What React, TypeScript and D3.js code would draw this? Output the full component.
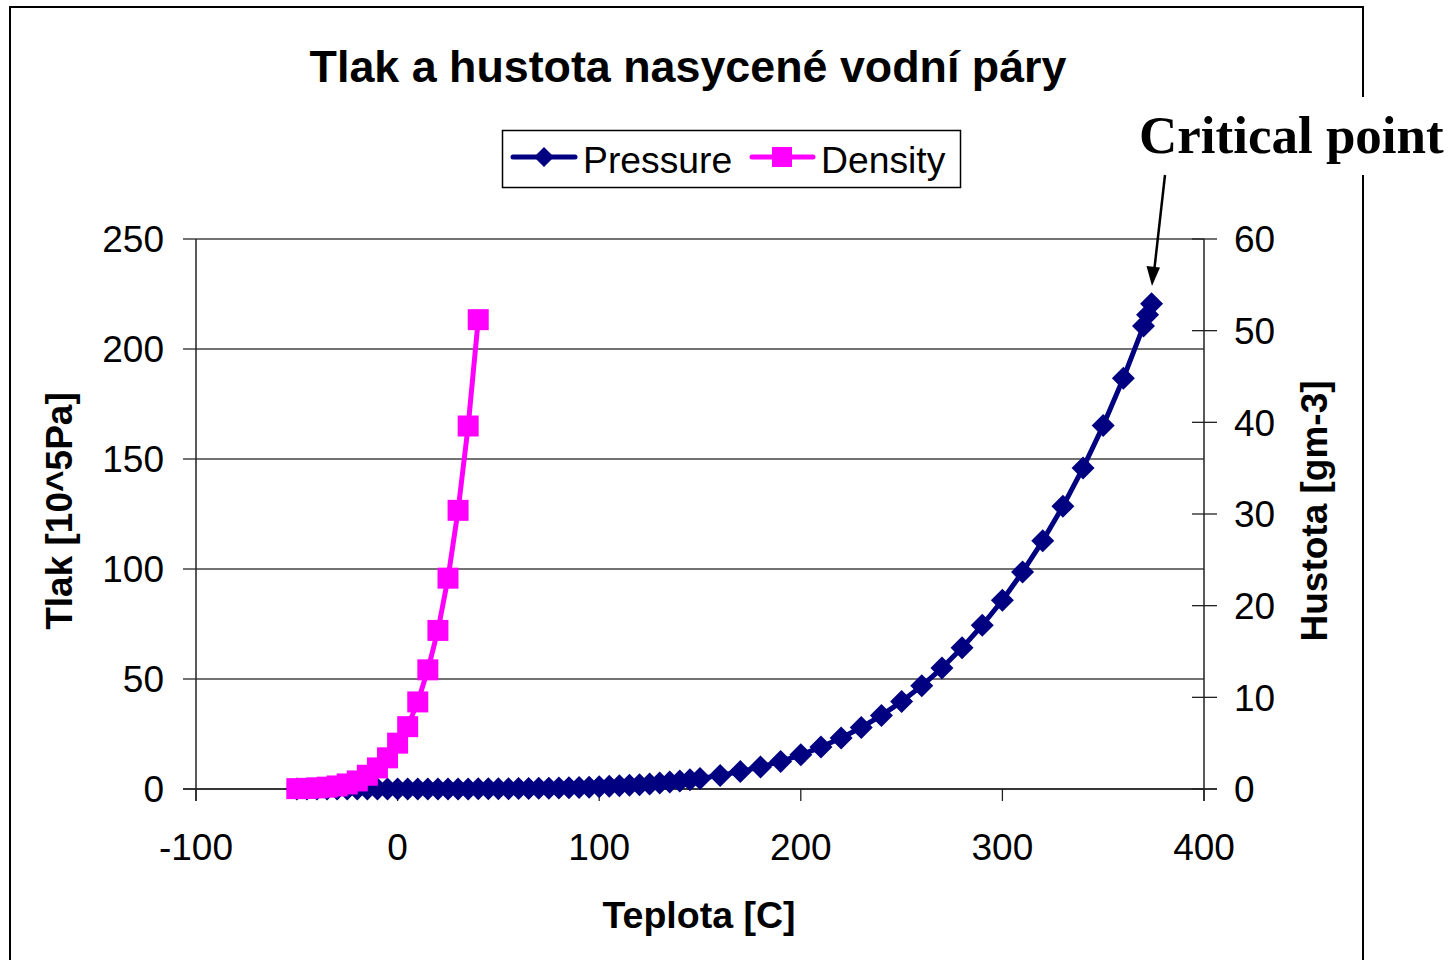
import React from "react";
import * as d3 from "d3";

const pressureTemps: number[] = [
  -50, -45, -40, -35, -30, -25, -20, -15, -10, -5, 0, 5, 10, 15, 20, 25, 30, 35, 40, 45, 50,
  55, 60, 65, 70, 75, 80, 85, 90, 95, 100, 105, 110, 115, 120, 125, 130, 135, 140, 145, 150,
  160, 170, 180, 190, 200, 210, 220, 230, 240, 250, 260, 270, 280, 290, 300, 310, 320, 330,
  340, 350, 360, 370, 372, 374,
];
const pressureValues: number[] = [
  0.00004, 0.00007, 0.00013, 0.00022, 0.00038, 0.00063, 0.00103, 0.00165, 0.0026, 0.004,
  0.0061, 0.0087, 0.0123, 0.0171, 0.0234, 0.0317, 0.0425, 0.0563, 0.0738, 0.0959, 0.1235,
  0.1576, 0.1995, 0.2504, 0.312, 0.386, 0.4741, 0.5787, 0.7018, 0.8461, 1.0142, 1.209,
  1.4338, 1.6918, 1.9867, 2.3222, 2.7026, 3.132, 3.615, 4.1563, 4.761,
  6.18, 7.92, 10.03, 12.55, 15.54, 19.06, 23.18, 27.95, 33.45, 39.74, 46.88, 54.97, 64.17,
  74.42, 85.81, 98.65, 112.8, 128.5, 145.9, 165.2, 186.7, 210.4, 215.6, 220.6,
];
const densityTemps: number[] = [
  -50, -45, -40, -35, -30, -25, -20, -15, -10, -5, 0, 5, 10, 15, 20, 25, 30, 35, 40,
];
const densityValues: number[] = [
  0.04, 0.07, 0.12, 0.2, 0.33, 0.55, 0.88, 1.5, 2.3, 3.4, 5.0, 6.8, 9.5, 13.0, 17.3, 23.0,
  30.4, 39.6, 51.2,
];
const xTicks: number[] = [-100, 0, 100, 200, 300, 400];
const yLeftTicks: number[] = [0, 50, 100, 150, 200, 250];
const yRightTicks: number[] = [0, 10, 20, 30, 40, 50, 60];

const title = "Tlak a hustota nasycené vodní páry";
const xTitle = "Teplota [C]";
const yLeftTitle = "Tlak [10^5Pa]";
const yRightTitle = "Hustota [gm-3]";
const seriesNames = ["Pressure", "Density"];
const annotation = "Critical point";

const NAVY = "#000080";
const MAGENTA = "#FF00FF";
const SANS = "'Liberation Sans', Arial, sans-serif";
const SERIF = "'Liberation Serif', 'Times New Roman', serif";

const diamond = (r: number) => `M0,${-r}L${r},0L0,${r}L${-r},0Z`;

export default function App() {
  const x = d3.scaleLinear().domain([-100, 400]).range([196, 1204]);
  const yL = d3.scaleLinear().domain([0, 250]).range([789, 239]);
  const yR = d3.scaleLinear().domain([0, 60]).range([789, 239]);

  const pData = pressureTemps.map((t, i) => [t, pressureValues[i]] as [number, number]);
  const dData = densityTemps.map((t, i) => [t, densityValues[i]] as [number, number]);

  const pLine = d3
    .line<[number, number]>()
    .x((d) => x(d[0]))
    .y((d) => yL(d[1]))(pData) as string;
  const dLine = d3
    .line<[number, number]>()
    .x((d) => x(d[0]))
    .y((d) => yR(d[1]))(dData) as string;

  const sq = 21;

  return (
    <svg
      width={1450}
      height={960}
      style={{ position: "absolute", left: 0, top: 0, background: "#fff" }}
    >
      <rect x={0} y={0} width={1450} height={960} fill="#fff" />
      <rect x={10} y={7} width={1353} height={1000} fill="none" stroke="#000" strokeWidth={2} />

      {/* gridlines */}
      {yLeftTicks.map((t) => (
        <line key={"g" + t} x1={183} x2={1204} y1={yL(t)} y2={yL(t)} stroke="#444" strokeWidth={1.3} />
      ))}
      {/* left axis */}
      <line x1={196} x2={196} y1={239} y2={801} stroke="#222" strokeWidth={1.5} />
      {/* right axis */}
      <line x1={1204} x2={1204} y1={239} y2={801} stroke="#222" strokeWidth={1.5} />
      {yRightTicks.map((t) => (
        <line key={"rt" + t} x1={1192} x2={1217} y1={yR(t)} y2={yR(t)} stroke="#222" strokeWidth={1.3} />
      ))}
      {/* x axis */}
      <line x1={183} x2={1217} y1={789} y2={789} stroke="#222" strokeWidth={1.5} />
      {xTicks.map((t) => (
        <line key={"xt" + t} x1={x(t)} x2={x(t)} y1={789} y2={801} stroke="#222" strokeWidth={1.3} />
      ))}

      {/* tick labels */}
      {yLeftTicks.map((t) => (
        <text key={"yl" + t} x={164} y={yL(t)} dy="0.36em" textAnchor="end" fontFamily={SANS} fontSize={37}>
          {t}
        </text>
      ))}
      {yRightTicks.map((t) => (
        <text key={"yr" + t} x={1234} y={yR(t)} dy="0.36em" textAnchor="start" fontFamily={SANS} fontSize={37}>
          {t}
        </text>
      ))}
      {xTicks.map((t) => (
        <text key={"xl" + t} x={x(t)} y={860} textAnchor="middle" fontFamily={SANS} fontSize={37}>
          {t}
        </text>
      ))}

      {/* axis titles */}
      <text x={699} y={928} textAnchor="middle" fontFamily={SANS} fontWeight="bold" fontSize={37.5}>
        {xTitle}
      </text>
      <text
        transform={`translate(72,511) rotate(-90)`}
        textAnchor="middle"
        fontFamily={SANS}
        fontWeight="bold"
        fontSize={37}
      >
        {yLeftTitle}
      </text>
      <text
        transform={`translate(1327,511) rotate(-90)`}
        textAnchor="middle"
        fontFamily={SANS}
        fontWeight="bold"
        fontSize={37}
      >
        {yRightTitle}
      </text>

      {/* title */}
      <text x={688} y={82} textAnchor="middle" fontFamily={SANS} fontWeight="bold" fontSize={44.8}>
        {title}
      </text>

      {/* pressure series */}
      <path d={pLine} fill="none" stroke={NAVY} strokeWidth={5} strokeLinejoin="round" />
      {pData.map((d, i) => (
        <path key={"pm" + i} d={diamond(11.5)} transform={`translate(${x(d[0])},${yL(d[1])})`} fill={NAVY} />
      ))}

      {/* density series */}
      <path d={dLine} fill="none" stroke={MAGENTA} strokeWidth={5} strokeLinejoin="round" />
      {dData.map((d, i) => (
        <rect
          key={"dm" + i}
          x={x(d[0]) - sq / 2}
          y={yR(d[1]) - sq / 2}
          width={sq}
          height={sq}
          fill={MAGENTA}
        />
      ))}

      {/* legend */}
      <rect x={502.5} y={130.5} width={458} height={57} fill="#fff" stroke="#000" strokeWidth={1.5} />
      <line x1={513} x2={575} y1={157} y2={157} stroke={NAVY} strokeWidth={5} strokeLinecap="round" />
      <path d={diamond(10)} transform="translate(544,157)" fill={NAVY} />
      <text x={583} y={173} fontFamily={SANS} fontSize={37.3}>
        {seriesNames[0]}
      </text>
      <line x1={752} x2={813} y1={157} y2={157} stroke={MAGENTA} strokeWidth={5} strokeLinecap="round" />
      <rect x={772} y={147} width={20} height={20} fill={MAGENTA} />
      <text x={821} y={173} fontFamily={SANS} fontSize={37.3}>
        {seriesNames[1]}
      </text>

      {/* critical point annotation */}
      <rect x={1136} y={97} width={314} height={78} fill="#fff" />
      <text x={1139} y={153} fontFamily={SERIF} fontWeight="bold" fontSize={53}>
        {annotation}
      </text>
      <line x1={1165} y1={175} x2={1154.5} y2={268} stroke="#000" strokeWidth={2.5} />
      <path d="M1152,286 L1146.5,266 L1160,267.5 Z" fill="#000" />
    </svg>
  );
}
